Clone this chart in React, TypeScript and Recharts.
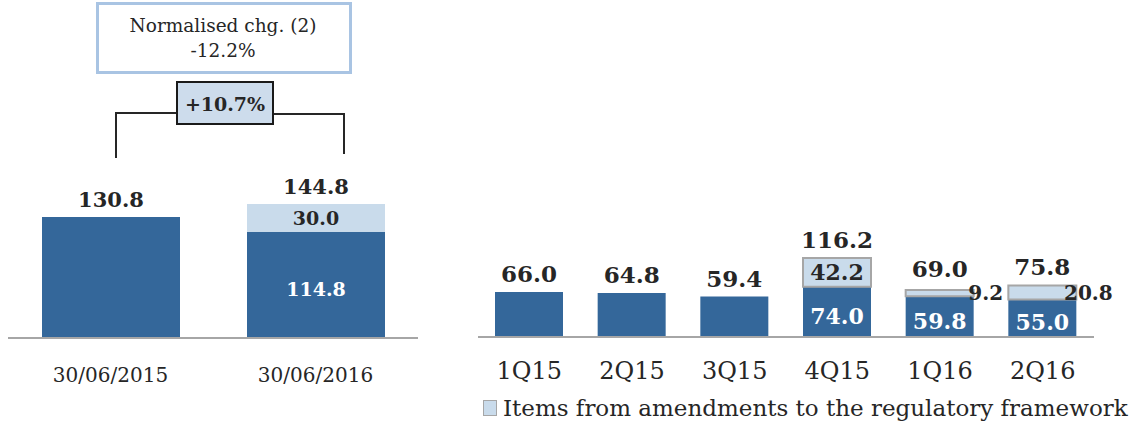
import React from "react";
import { BarChart, Bar, XAxis, YAxis, LabelList } from "recharts";

// left panel: half-year comparison
const leftCategories = ["30/06/2015", "30/06/2016"];
const leftBase = [130.8, 114.8];
const leftExtra = [0, 30.0];
const leftTotals = [130.8, 144.8];

// right panel: quarterly
const quarters = ["1Q15", "2Q15", "3Q15", "4Q15", "1Q16", "2Q16"];
const quarterBase = [66.0, 64.8, 59.4, 74.0, 59.8, 55.0];
const quarterExtra = [0, 0, 0, 42.2, 9.2, 20.8];
const quarterTotals = [66.0, 64.8, 59.4, 116.2, 69.0, 75.8];

const legendLabel = "Items from amendments to the regulatory framework";
const normalisedLabel = "Normalised chg. (2)";
const normalisedValue = "-12.2%";
const changeLabel = "+10.7%";

const FONT = "'DejaVu Serif', serif";
const DARK = "#34679a";
const LIGHT = "#c9dbeb";
const TEXT = "#262626";

const build = (cats: string[], base: number[], extra: number[], totals: number[]) =>
  cats.map((name, i) => ({
    name,
    base: base[i],
    extra: extra[i],
    inside: extra[i] > 0 ? base[i].toFixed(1) : "",
    totalOnBase: extra[i] > 0 ? null : totals[i],
    totalOnExtra: extra[i] > 0 ? totals[i] : null,
  }));

const leftData = build(leftCategories, leftBase, leftExtra, leftTotals);
const rightData = build(quarters, quarterBase, quarterExtra, quarterTotals);

const makeTick = (size: number, dy: number) => (props: any) => (
  <text
    x={props.x}
    y={props.y}
    dy={dy}
    textAnchor="middle"
    fontSize={size}
    fill={TEXT}
    fontFamily={FONT}
  >
    {props.payload.value}
  </text>
);

// total above the stack; lifted a little when a small segment's label sits beside it
const makeTotal = (size: number, side: boolean) => (props: any) => {
  const { x, y, width, height, value } = props;
  if (value === null || value === undefined || value === "") return null;
  const h = Number(height) || 0;
  let base = y - 10;
  if (side && h > 0 && h < 20) base = Math.min(base, y + h / 2 - 16);
  return (
    <text
      x={x + width / 2}
      y={base}
      textAnchor="middle"
      fontSize={size}
      fontWeight="bold"
      fill={TEXT}
      fontFamily={FONT}
    >
      {Number(value).toFixed(1)}
    </text>
  );
};

const makeExtra = (inSize: number, sideSize: number) => (props: any) => {
  const { x, y, width, height, value } = props;
  if (!value) return null;
  const h = Number(height) || 0;
  const inside = h >= 20;
  return (
    <text
      x={inside ? x + width / 2 : x + width + 12}
      y={y + h / 2}
      dy="0.36em"
      textAnchor="middle"
      fontSize={inside ? inSize : sideSize}
      fontWeight="bold"
      fill={TEXT}
      fontFamily={FONT}
    >
      {Number(value).toFixed(1)}
    </text>
  );
};

const makeInside = (size: number) => (props: any) => {
  const { x, y, width, height, value } = props;
  if (!value) return null;
  return (
    <text
      x={x + width / 2}
      y={y + height / 2 + 4}
      dy="0.36em"
      textAnchor="middle"
      fontSize={size}
      fontWeight="bold"
      fill="#ffffff"
      fontFamily={FONT}
    >
      {value}
    </text>
  );
};

export default function App() {
  return (
    <div
      style={{
        position: "absolute",
        left: 0,
        top: 0,
        width: 1137,
        height: 424,
        background: "#fff",
        fontFamily: FONT,
        overflow: "hidden",
      }}
    >
      <div style={{ position: "absolute", left: 0, top: 0 }}>
        <BarChart
          width={420}
          height={424}
          data={leftData}
          margin={{ top: 190, right: 2, left: 8, bottom: 56 }}
          barSize={138}
        >
          <XAxis
            dataKey="name"
            axisLine={{ stroke: "#a6a6a6", strokeWidth: 2 }}
            tickLine={false}
            height={30}
            interval={0}
            tick={makeTick(20, 36)}
          />
          <YAxis hide domain={[0, 160]} />
          <Bar dataKey="base" stackId="a" fill={DARK} isAnimationActive={false}>
            <LabelList dataKey="inside" content={makeInside(19)} />
            <LabelList dataKey="totalOnBase" content={makeTotal(21, false)} />
          </Bar>
          <Bar dataKey="extra" stackId="a" fill={LIGHT} isAnimationActive={false}>
            <LabelList dataKey="extra" content={makeExtra(19, 18)} />
            <LabelList dataKey="totalOnExtra" content={makeTotal(21, true)} />
          </Bar>
        </BarChart>
      </div>

      <svg
        width={420}
        height={180}
        style={{ position: "absolute", left: 0, top: 0 }}
      >
        <rect x={97.5} y={3.5} width={253} height={69} fill="#fff" stroke="#a9c4e3" strokeWidth={3} />
        <text x={223} y={32} textAnchor="middle" fontSize={18.5} fill={TEXT} fontFamily={FONT}>
          {normalisedLabel}
        </text>
        <text x={223} y={57} textAnchor="middle" fontSize={18.5} fill={TEXT} fontFamily={FONT}>
          {normalisedValue}
        </text>
        <polyline points="116,158 116,113 177,113" fill="none" stroke={TEXT} strokeWidth={2} />
        <polyline points="273,114 344,114 344,154" fill="none" stroke={TEXT} strokeWidth={2} />
        <rect x={177} y={82} width={96} height={42} fill="#cddcec" stroke="#1a1a1a" strokeWidth={2} />
        <text x={225} y={111} textAnchor="middle" fontSize={19} fontWeight="bold" fill={TEXT} fontFamily={FONT}>
          {changeLabel}
        </text>
      </svg>

      <div style={{ position: "absolute", left: 460, top: 0 }}>
        <BarChart
          width={677}
          height={424}
          data={rightData}
          margin={{ top: 201, right: 43, left: 18, bottom: 57 }}
          barSize={68}
        >
          <XAxis
            dataKey="name"
            axisLine={{ stroke: "#a6a6a6", strokeWidth: 2 }}
            tickLine={false}
            height={30}
            interval={0}
            tick={makeTick(24, 34)}
          />
          <YAxis hide domain={[0, 200]} />
          <Bar dataKey="base" stackId="a" fill={DARK} isAnimationActive={false}>
            <LabelList dataKey="inside" content={makeInside(22)} />
            <LabelList dataKey="totalOnBase" content={makeTotal(23, false)} />
          </Bar>
          <Bar
            dataKey="extra"
            stackId="a"
            fill={LIGHT}
            stroke="#a6a6a6"
            strokeWidth={2}
            isAnimationActive={false}
          >
            <LabelList dataKey="extra" content={makeExtra(22, 20)} />
            <LabelList dataKey="totalOnExtra" content={makeTotal(23, true)} />
          </Bar>
        </BarChart>
      </div>

      <div
        style={{
          position: "absolute",
          left: 483,
          top: 395,
          display: "flex",
          alignItems: "center",
          fontSize: 23,
          color: TEXT,
          whiteSpace: "nowrap",
        }}
      >
        <span
          style={{
            display: "inline-block",
            width: 12,
            height: 14,
            background: LIGHT,
            border: "1.5px solid #a6a6a6",
            marginRight: 6,
          }}
        />
        <span>{legendLabel}</span>
      </div>
    </div>
  );
}
